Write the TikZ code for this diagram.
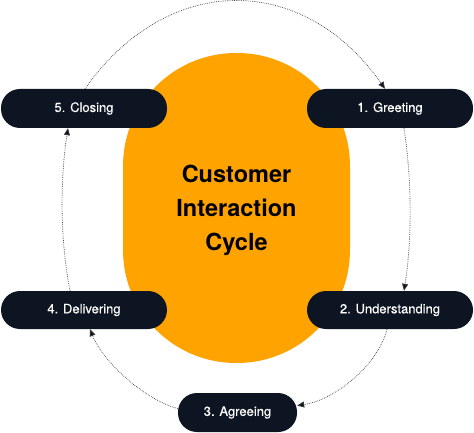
\documentclass[tikz,border=0pt]{standalone}
\usepackage{fontspec}
\setmainfont{TeX Gyre Heros}
\newfontfamily\pillfont[FakeBold=0.4]{TeX Gyre Heros}
\usetikzlibrary{arrows.meta}
\definecolor{blobc}{HTML}{FFA300}
\definecolor{pillc}{HTML}{0E1522}
\definecolor{linec}{HTML}{3A3A3A}
\tikzset{
  pill/.style={fill=pillc, rounded corners=19pt, minimum height=39pt, inner sep=0pt,
    text=white, font=\pillfont\fontsize{13}{15}\selectfont},
  conn/.style={draw=linec, line width=0.7pt, dash pattern=on 0.7pt off 1.1pt,
    -{Triangle[length=7pt,width=6pt,fill=pillc]}, shorten >=0pt},
}
\begin{document}
\begin{tikzpicture}[x=1pt,y=-1pt]
\useasboundingbox (0,0) rectangle (474,433);
\node[fill=blobc, rounded corners=113pt, minimum width=227pt, minimum height=310pt, inner sep=0pt] (blob) at (236.5,208) {};
\node[align=center, font=\bfseries\fontsize{23.5}{34}\selectfont] (title) at (236.5,210.5) {Customer\\Interaction\\Cycle};
\node[pill, minimum width=166pt] (close) at (84,108.5) {5. Closing};
\node[pill, minimum width=166pt] (greet) at (390,108.5) {1. Greeting};
\node[pill, minimum width=166pt, minimum height=38pt] (deliver) at (84,310) {4. Delivering};
\node[pill, minimum width=166pt, minimum height=38pt] (under) at (390,310) {2. Understanding};
\node[pill, minimum width=119pt] (agree) at (237.5,412.5) {3. Agreeing};
\draw[conn] ([xshift=1pt]close.north) .. controls (167,-28) and (303,-28) .. ([xshift=-5pt]greet.north);
\draw[conn] ([xshift=14pt]greet.south) .. controls (412,180) and (412,240) .. ([xshift=14pt]under.north);
\draw[conn] ([xshift=-3pt]under.south) .. controls (378,365) and (335,400) .. ([yshift=7pt]agree.east);
\draw[conn] ([yshift=4pt]agree.west) .. controls (145,400) and (103,362) .. ([xshift=6pt]deliver.south);
\draw[conn] ([xshift=-14pt]deliver.north) .. controls (60,240) and (60,180) .. ([xshift=-16pt]close.south);
\end{tikzpicture}
\end{document}
